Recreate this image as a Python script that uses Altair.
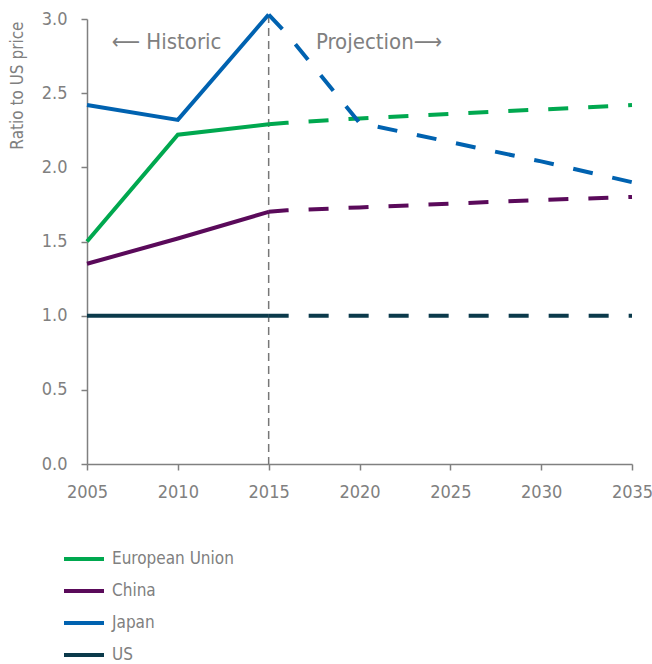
import altair as alt
import pandas as pd

countries = ["European Union", "China", "Japan", "US"]
colors = ["#00a84f", "#5a0a5a", "#0062b0", "#0b3a4b"]

hist_years = [2005, 2010, 2015]
hist_eu = [1.50, 2.22, 2.29]
hist_cn = [1.35, 1.52, 1.70]
hist_jp = [2.42, 2.32, 3.03]
hist_us = [1.00, 1.00, 1.00]

proj_years = [2015, 2016, 2020, 2025, 2030, 2035]
proj_eu = [2.29, 2.30, 2.33, 2.36, 2.39, 2.42]
proj_cn = [1.70, 1.71, 1.73, 1.755, 1.78, 1.80]
proj_jp = [3.03, 2.90, 2.30, 2.17, 2.04, 1.90]
proj_us = [1.00, 1.00, 1.00, 1.00, 1.00, 1.00]

rows = []
for c, h, p in zip(countries, [hist_eu, hist_cn, hist_jp, hist_us], [proj_eu, proj_cn, proj_jp, proj_us]):
    for y, v in zip(hist_years, h):
        rows.append({"country": c, "year": y, "value": v, "phase": "Historic"})
    for y, v in zip(proj_years, p):
        rows.append({"country": c, "year": y, "value": v, "phase": "Projection"})
df = pd.DataFrame(rows)

FONT = "DejaVu Sans Condensed, Roboto, sans-serif"
GREY = "#808080"

xscale = alt.Scale(domain=[2005, 2035], nice=False)
yscale = alt.Scale(domain=[0, 3], nice=False)
cscale = alt.Scale(domain=countries, range=colors)

base = alt.Chart(df)

hist = base.transform_filter(alt.datum.phase == "Historic").mark_line(strokeWidth=4, strokeCap="butt").encode(
    x=alt.X("year:Q", scale=xscale,
            axis=alt.Axis(values=[2005, 2010, 2015, 2020, 2025, 2030, 2035], format="d", title=None,
                          grid=False, tickSize=6, labelPadding=13, labelFontSize=18,
                          labelFlush=False, labelOverlap=False)),
    y=alt.Y("value:Q", scale=yscale,
            axis=alt.Axis(values=[0, 0.5, 1, 1.5, 2, 2.5, 3], format=".1f", title="Ratio to US price",
                          grid=False, tickSize=6, labelPadding=14, labelFontSize=18,
                          labelFlush=False, labelOverlap=False,
                          titleFontSize=17, titleFontWeight="normal", titleAngle=-90,
                          titleX=-70, titleY=2, titleAlign="right", titleBaseline="middle")),
    color=alt.Color("country:N", scale=cscale, sort=countries,
                    legend=alt.Legend(title=None, orient="none", legendX=-15, legendY=528,
                                      symbolType="M-2,0H2", symbolSize=400, symbolStrokeWidth=4,
                                      labelFontSize=17, labelColor=GREY, labelOffset=16,
                                      rowPadding=12, direction="vertical")),
    detail="country:N",
)

proj = base.transform_filter(alt.datum.phase == "Projection").mark_line(
    strokeWidth=4, strokeDash=[20, 20], strokeCap="butt").encode(
    x=alt.X("year:Q", scale=xscale),
    y=alt.Y("value:Q", scale=yscale),
    color=alt.Color("country:N", scale=cscale, sort=countries, legend=None),
    detail="country:N",
)

divider = alt.Chart(pd.DataFrame({"year": [2015]})).mark_rule(
    color="#777777", strokeWidth=1.5, strokeDash=[8, 5]).encode(
    x=alt.X("year:Q", scale=xscale),
    y=alt.value(-4),
    y2=alt.value(445),
)

labels = pd.DataFrame({
    "text": ["⟵ Historic", "Projection⟶"],
    "year": [2012.4, 2017.6],
    "value": [2.845, 2.845],
})
hist_lbl = alt.Chart(labels.iloc[[0]]).mark_text(
    align="right", baseline="middle", fontSize=22, color=GREY, font=FONT).encode(
    x=alt.X("year:Q", scale=xscale), y=alt.Y("value:Q", scale=yscale), text="text:N")
proj_lbl = alt.Chart(labels.iloc[[1]]).mark_text(
    align="left", baseline="middle", fontSize=22, color=GREY, font=FONT).encode(
    x=alt.X("year:Q", scale=xscale), y=alt.Y("value:Q", scale=yscale), text="text:N")

chart = alt.layer(divider, hist, proj, hist_lbl, proj_lbl).properties(
    width=545, height=445,
    autosize=alt.AutoSizeParams(type="none"),
    padding={"left": 87, "top": 19, "right": 20, "bottom": 200},
).configure_view(stroke=None).configure_axis(
    domainColor=GREY, tickColor=GREY, labelColor=GREY, titleColor=GREY,
    labelFont=FONT, titleFont=FONT, domainWidth=1.5, tickWidth=1.5,
).configure_legend(labelFont=FONT)

chart.save("out.html", embed_options={"renderer": "svg", "actions": False})
